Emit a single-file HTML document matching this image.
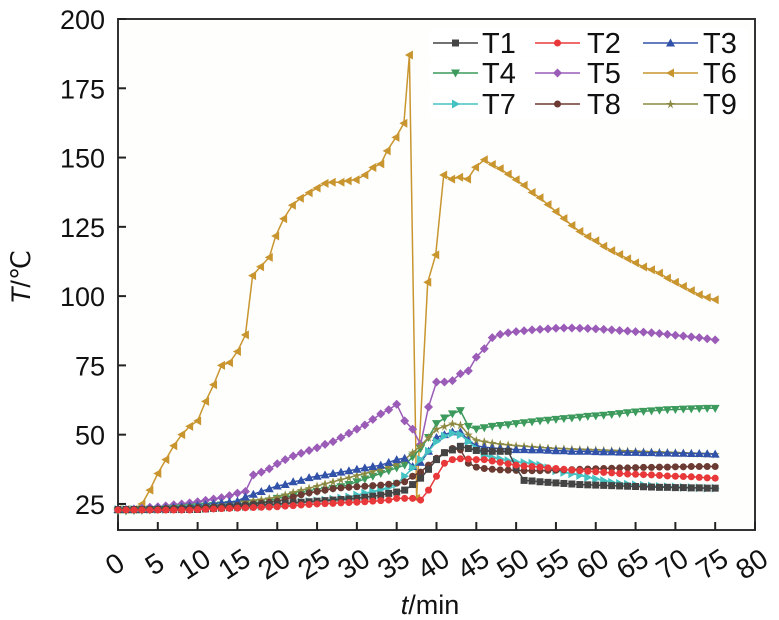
<!DOCTYPE html>
<html><head><meta charset="utf-8">
<style>
html,body{margin:0;padding:0;background:#fff;}
svg{display:block;font-family:"Liberation Sans",Arial,sans-serif;}
</style></head>
<body>
<svg id="chart" width="779" height="620" viewBox="0 0 779 620" xmlns="http://www.w3.org/2000/svg">
<rect x="118" y="19" width="637" height="511" fill="#fefefd" stroke="#333" stroke-width="2"/>
<g id="axes"></g>
<g id="series"></g>
<g id="legend"></g>
<text transform="translate(30,277) rotate(-90)" text-anchor="middle" font-size="27" fill="#111"><tspan font-style="italic">T</tspan>/℃</text>
<text x="430" y="614" text-anchor="middle" font-size="27" fill="#111"><tspan font-style="italic">t</tspan>/min</text>
</svg>
<script>
const times = [];
for (let i = 0; i <= 75; i++) times.push(i);
const xTicks = [0,5,10,15,20,25,30,35,40,45,50,55,60,65,70,75,80];
const yTicks = [25,50,75,100,125,150,175,200];
const seriesNames = ["T1","T2","T3","T4","T5","T6","T7","T8","T9"];
const t1 = [23,23,23,23,23,23,23,23,23,23,23,23.2,23.4,23.6,23.8,24,24.2,24.4,24.6,24.8,25,25.2,25.4,25.6,25.8,26,26.2,26.4,26.6,26.8,27,27.4,27.8,28.2,28.8,29.3,30,32,34.3,37.5,41,43.5,44.5,45.8,45,44.3,44,44,44,44,38,33.5,33.3,33,32.8,32.6,32.4,32.2,32,31.9,31.8,31.7,31.6,31.5,31.4,31.3,31.2,31.1,31,31,30.9,30.9,30.8,30.8,30.7,30.7];
const t2 = [22.8,22.8,22.8,22.8,22.8,22.8,22.8,22.8,22.8,22.8,23,23.1,23.2,23.3,23.4,23.5,23.6,23.7,23.8,23.9,24,24.2,24.4,24.6,24.8,25,25.1,25.2,25.4,25.5,25.6,25.8,26,26.2,26.4,27,27,27,26.4,30,35,39.7,41,41.3,41.2,41,41,40.5,40,39.5,39,38.7,38.5,38.3,38,37.8,37.5,37.2,37,36.8,36.6,36.4,36.2,36,35.8,35.7,35.6,35.5,35.3,35.1,35,34.9,34.8,34.6,34.4,34.3];
const t3 = [23,23,23,23,23.2,23.4,23.6,23.8,24,24.2,24.5,24.8,25.1,25.4,25.7,26,27.5,28.5,29.5,30.5,31.5,32,33,33.5,34.5,35,35.5,36,36.5,37,37.5,38,38.5,39,40,41,41.5,38.5,40,44,49,50,51,51,48,46,45.5,45.2,45,44.8,44.6,44.6,44.5,44.5,44.4,44.2,44.2,44,44,44,43.9,43.8,43.8,43.7,43.6,43.6,43.5,43.5,43.4,43.4,43.3,43.3,43.2,43.2,43.1,43];
const t4 = [22.5,22.5,22.6,22.7,22.8,23,23.2,23.4,23.6,23.8,24,24.2,24.4,24.6,24.8,25,25.2,25.4,25.7,26,27,27.5,28,28.5,29,29.5,30,30.6,31.2,32,33,34,35,36,37,38,39,42,45,49,54,56,57.5,58.7,53,52,52.5,53,53.3,53.6,54,54.3,54.6,55,55.2,55.5,55.8,56,56.3,56.6,56.8,57,57.3,57.6,57.9,58.2,58.4,58.6,58.8,59,59.1,59.2,59.3,59.4,59.5,59.5];
const t5 = [22.8,23,23.2,23.5,23.8,24,24.3,24.7,25,25.4,25.8,26.3,26.8,27.3,28,28.9,29.5,35.5,36.5,37.7,39.5,41,42.3,43.3,44.3,45.3,46.5,47.5,49,50.5,52,53.5,55.5,57.5,59,61,55,52,46.5,60,69,69,69.5,72,73,78,81,85,86.2,86.8,87.2,87.5,87.8,88,88.2,88.4,88.5,88.5,88.4,88.3,88.2,88,87.8,87.6,87.4,87.2,87,86.8,86.5,86.2,85.9,85.6,85.3,85,84.6,84.2];
const t6Times = [0,1,2,3,4,5,6,7,8,9,10,11,12,13,14,15,16,16.9,17.9,19,19.8,20.8,21.9,22.9,24,25,26,26.9,28,28.9,29.9,31,32,33,33.8,34.9,35.9,36.6,37.5,38.9,39.9,40.9,41.9,42.9,43.9,44.9,46,47,48,49,50,51,52,53,54,55,56,57,58,59,60,61,62,63,64,65,66,67,68,69,70,71,72,73,74,75];
const t6 = [23,23,23,25,30,36,41,46,50,53,55,62,68,75,76,80,86,107.4,110.6,114,121.7,127.9,132.8,135.3,137.3,139,140.7,141.1,141.1,141.6,142,143.7,146.4,147.7,152.4,157.3,162.4,187,27,105,114.9,143.7,142.2,142.9,142.2,146.5,149.2,147.5,146,144,142,140,137.4,135.5,133,130.5,128,125.5,123.3,121.5,120,118,116.4,115,113.5,112,110.5,109.5,108.3,106.5,105,103.5,102,100.5,99.5,98.7];
const t7 = [23,23,23,23,23,23,23,23.1,23.2,23.3,23.4,23.5,23.6,23.7,23.8,23.9,24,24.1,24.2,24.4,24.6,25,25.3,25.6,25.9,26.1,26.4,26.7,27.1,27.5,28.2,28.9,29.5,30.2,31,32.2,35,38,41,44,47.5,49.5,50.5,50,47.5,45,42.5,41.8,41.2,40.6,40.2,39.9,39.7,39,38,37,36.4,35.9,35.3,34.6,34,33.4,32.8,32.4,32.1,31.9,31.7,31.5,31.3,31.2,31.1,31,30.9,30.8,30.7,30.7];
const t8 = [23,23,23,23,23.1,23.2,23.3,23.4,23.5,23.6,23.7,23.8,23.9,24,24.2,24.4,24.7,25,25.3,25.6,26,26.7,27.5,28.3,29,29.5,30,30.5,30.8,31,31.2,31.4,31.6,31.8,32.1,32.5,33,35,36.5,39,41.5,43.5,45,44.5,39.7,38.3,37.8,37.5,37.3,37.2,37.1,37,37,37,37.1,37.2,37.3,37.4,37.5,37.6,37.7,37.8,37.9,38,38,38.1,38.2,38.2,38.3,38.3,38.4,38.4,38.5,38.5,38.5,38.5];
const t9 = [23,23,23,23.1,23.2,23.4,23.6,23.8,24,24.2,24.4,24.6,24.8,25.1,25.4,25.7,26,26.3,26.6,27,27.5,28.3,29.2,30,30.7,31.5,32.3,33,33.8,34.5,35.3,36,36.8,37.6,38.5,39.5,41,43.5,46,49,52,53,54,53.5,50,48,47.5,47,46.6,46.3,46,45.8,45.6,45.4,45.2,45,44.9,44.8,44.7,44.6,44.5,44.4,44.3,44.2,44.1,44,43.9,43.8,43.7,43.6,43.5,43.4,43.3,43.2,43.1,43];
</script>
<script>
const NS = "http://www.w3.org/2000/svg";
const X0 = 118, X1 = 755, Y0 = 530, Y1 = 19;
const xMin = 0, xMax = 80, yMin = 15.6, yMax = 200;
function xs(t){ return X0 + (t - xMin) / (xMax - xMin) * (X1 - X0); }
function ys(v){ return Y0 - (v - yMin) / (yMax - yMin) * (Y0 - Y1); }
function mk(tag, attrs, parent){
  const e = document.createElementNS(NS, tag);
  for (const k in attrs) e.setAttribute(k, attrs[k]);
  parent.appendChild(e);
  return e;
}
const axes = document.getElementById('axes');
xTicks.forEach(function(t){
  const tk = mk('line', {x1: xs(t), x2: xs(t), y1: Y0, y2: Y0 - 8, stroke: '#222', 'stroke-width': 2}, axes);
  
  
  const lb = mk('text', {transform: 'translate(' + (xs(t) + 2) + ',' + (Y0 + 42) + ') rotate(-33)', 'text-anchor': 'middle', 'font-size': 28, fill: '#111'}, axes);
  lb.textContent = t;
  
  
});
yTicks.forEach(function(v){
  const tk = mk('line', {x1: X0, x2: X0 + 8, y1: ys(v), y2: ys(v), stroke: '#222', 'stroke-width': 2}, axes);
  
  
  const lb = mk('text', {x: 105, y: ys(v) + 10, 'text-anchor': 'end', 'font-size': 27, fill: '#111'}, axes);
  lb.textContent = v;
  
  
});
const colors = ['#444444','#e8383a','#3152a8','#3c9a5c','#9b5cb8','#c9952f','#45c2c2','#6b3a32','#8c8a42'];
const markers = ['square','circle','up','down','diamond','left','right','circle','star'];
const allVals = [t1,t2,t3,t4,t5,t6,t7,t8,t9];
function marker(g, type, x, y, c, s){
  s = s || 3.5;
  let p;
  if (type === 'square') p = mk('rect', {x: x - s, y: y - s, width: 2 * s, height: 2 * s, fill: c}, g);
  else if (type === 'circle') p = mk('circle', {cx: x, cy: y, r: s, fill: c}, g);
  else {
    let pts;
    if (type === 'up') pts = [[x, y - s - 1], [x - s - 1, y + s], [x + s + 1, y + s]];
    else if (type === 'down') pts = [[x, y + s + 1], [x - s - 1, y - s], [x + s + 1, y - s]];
    else if (type === 'left') pts = [[x - s - 1, y], [x + s, y - s - 1], [x + s, y + s + 1]];
    else if (type === 'right') pts = [[x + s + 1, y], [x - s, y - s - 1], [x - s, y + s + 1]];
    else if (type === 'diamond') pts = [[x, y - s - 1], [x + s + 1, y], [x, y + s + 1], [x - s - 1, y]];
    else pts = [[x, y - s - 1], [x + 1.2, y - 1], [x + s + 1, y - 1], [x + 1.5, y + 1], [x + 2.5, y + s + 1], [x, y + 2], [x - 2.5, y + s + 1], [x - 1.5, y + 1], [x - s - 1, y - 1], [x - 1.2, y - 1]];
    p = mk('polygon', {points: pts.map(function(q){ return q.join(','); }).join(' '), fill: c}, g);
  }
  return p;
}
const sg = document.getElementById('series');
const drawOrder = [5,4,3,8,2,6,7,0,1];
drawOrder.forEach(function(i){
  const vals = allVals[i];
  const tt = (i === 5) ? t6Times : times;
  const g = mk('g', {}, sg);
  
  
  const d = vals.map(function(v, k){ return (k ? 'L' : 'M') + xs(tt[k]).toFixed(1) + ',' + ys(v).toFixed(1); }).join(' ');
  const ln = mk('path', {d: d, fill: 'none', stroke: colors[i], 'stroke-width': 1.5}, g);
  
  
  vals.forEach(function(v, k){
    const m = marker(g, markers[i], xs(tt[k]), ys(v), colors[i]);
    
    
  });
});
const lg = document.getElementById('legend');
const colX = [[433, 478, 482], [535, 580, 587], [643, 698, 703]];
const rowY = [43, 73, 104];
seriesNames.forEach(function(n, i){
  const c = i % 3, r = Math.floor(i / 3);
  const g = mk('g', {}, lg);
  
  
  mk('rect', {x: colX[c][0] - 3, y: rowY[r] - 14, width: 108, height: 28, fill: '#fff'}, g);
  mk('line', {x1: colX[c][0], x2: colX[c][1], y1: rowY[r], y2: rowY[r], stroke: colors[i], 'stroke-width': 1.5}, g);
  marker(g, markers[i], (colX[c][0] + colX[c][1]) / 2, rowY[r], colors[i], 3.5);
  const tx = mk('text', {x: colX[c][2], y: rowY[r] + 10, 'font-size': 29, fill: '#111'}, g);
  tx.textContent = n;
});
</script>
</body></html>
